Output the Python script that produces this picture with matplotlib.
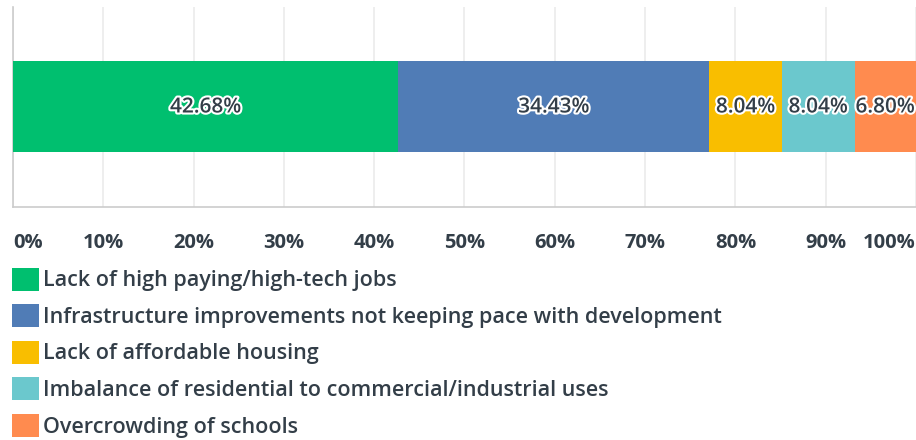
import matplotlib
matplotlib.use('Agg')
import matplotlib.pyplot as plt
import matplotlib.patheffects as pe

plt.rcParams['font.family'] = ['Open Sans', 'DejaVu Sans']

# data
categories = ['Lack of high paying/high-tech jobs',
              'Infrastructure improvements not keeping pace with development',
              'Lack of affordable housing',
              'Imbalance of residential to commercial/industrial uses',
              'Overcrowding of schools']
values = [42.68, 34.43, 8.04, 8.04, 6.80]
colors = ['#00bf6f', '#507cb6', '#f9be00', '#6bc8cd', '#ff8b4f']
ticks = [0, 10, 20, 30, 40, 50, 60, 70, 80, 90, 100]
tick_labels = ['%d%%' % t for t in ticks]

txt = '#333e48'

fig = plt.figure(figsize=(9.16, 4.4), dpi=100)
ax = fig.add_axes([13 / 916, 1 - 207 / 440, 1 - 13 / 916, 200 / 440])

left = 0
bars = []
for cat, v, c in zip(categories, values, colors):
    b = ax.barh(0, v, left=left, height=0.91, color=c, label=cat, zorder=3)
    bars.append(b)
    ax.text(left + v / 2, 0, '%.2f%%' % v, ha='center', va='center',
            fontsize=15, fontweight='semibold', color=txt, zorder=4,
            path_effects=[pe.withStroke(linewidth=3, foreground='white')])
    left += v

ax.set_xlim(0, 100)
ax.set_ylim(-1, 1)
ax.set_yticks([])
ax.set_xticks(ticks)
ax.set_xticklabels(tick_labels, fontsize=14.5, fontweight='bold', color=txt)
lbls = ax.get_xticklabels()
lbls[0].set_ha('left')
lbls[-1].set_ha('right')
ax.tick_params(axis='x', length=0, pad=19)
ax.grid(axis='x', color='#ebebeb', linewidth=1.2, zorder=0)
for s in ['top', 'right']:
    ax.spines[s].set_visible(False)
ax.spines['left'].set_color('#cccccc')
ax.spines['bottom'].set_color('#cccccc')
ax.spines['left'].set_linewidth(1.2)
ax.spines['bottom'].set_linewidth(1.2)

leg = fig.legend(handles=bars, labels=categories, loc='upper left',
                 bbox_to_anchor=(1 / 916, 1 - 257 / 440), frameon=False,
                 fontsize=15.5, handlelength=1.25, handleheight=1.25,
                 handletextpad=0.22, labelspacing=0.6, borderpad=0,
                 fancybox=True)
for t in leg.get_texts():
    t.set_color(txt)
    t.set_fontweight('semibold')

fig.savefig('out.png', dpi=100)
